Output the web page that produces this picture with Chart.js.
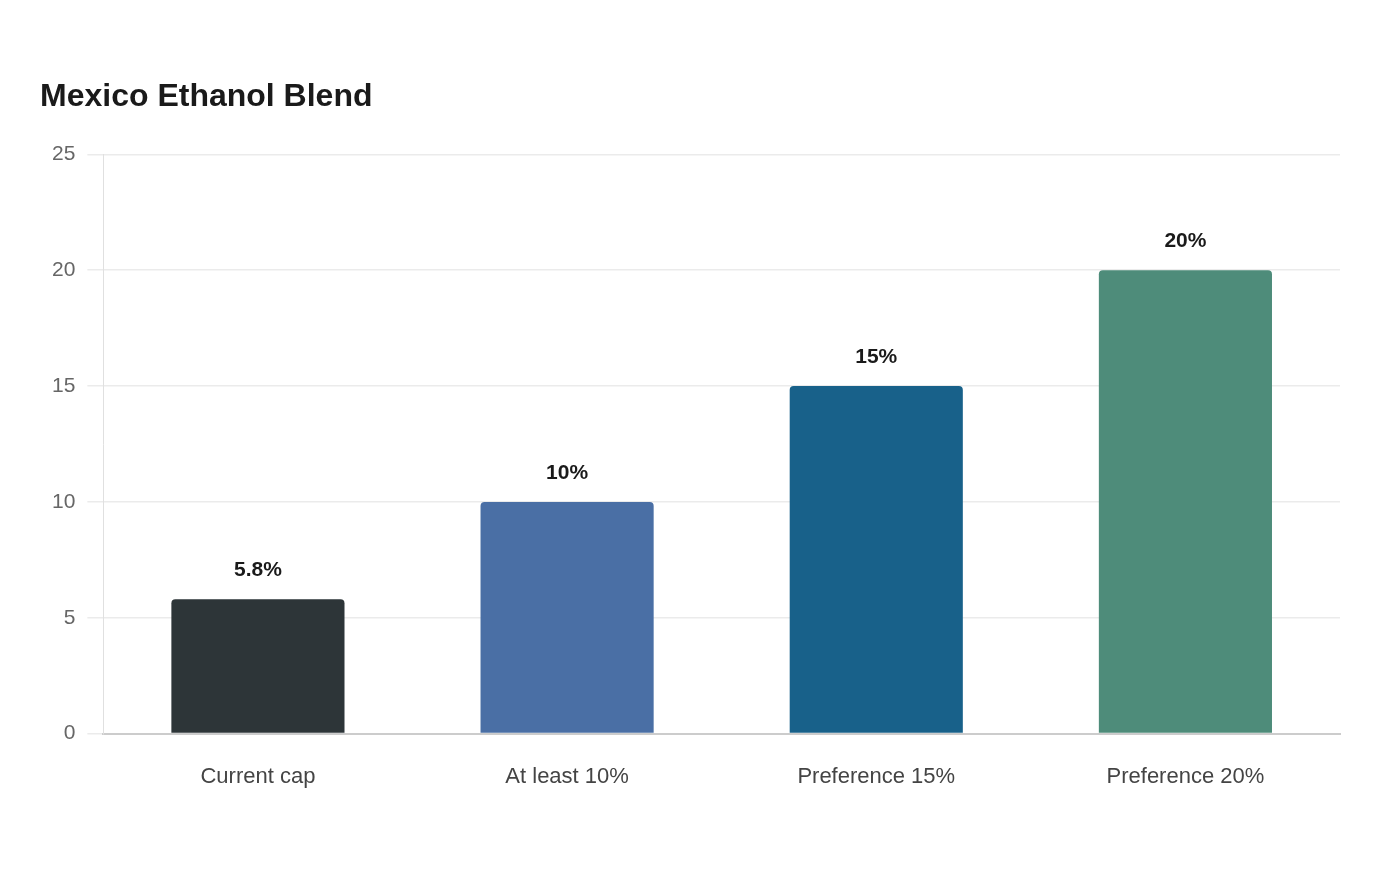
<!DOCTYPE html>
<html>
<head>
<meta charset="utf-8">
<script src="https://cdn.jsdelivr.net/npm/chart.js@4.4.1/dist/chart.umd.min.js"></script>
<style>
  html, body { margin: 0; padding: 0; background: #fff; }
  #wrap { width: 1400px; height: 880px; position: relative; }
</style>
</head>
<body>
<div id="wrap"><canvas id="chart"></canvas></div>
<script>
// Data
const categories = ['Current cap', 'At least 10%', 'Preference 15%', 'Preference 20%'];
const blendValues = [5.8, 10, 15, 20];
const blendLabels = ['5.8%', '10%', '15%', '20%'];
const barColors = ['#2d3538', '#4a6fa5', '#18618a', '#4e8c7a'];

const FONT = '"Liberation Sans", Arial, sans-serif';

// draws the value labels above the bars
const valueLabels = {
  id: 'valueLabels',
  afterDatasetsDraw(chart) {
    const { ctx } = chart;
    const meta = chart.getDatasetMeta(0);
    ctx.save();
    ctx.font = 'bold 21px ' + FONT;
    ctx.fillStyle = '#1a1a1a';
    ctx.textAlign = 'center';
    ctx.textBaseline = 'middle';
    meta.data.forEach((bar, i) => {
      ctx.fillText(blendLabels[i], bar.x, bar.y - 29);
    });
    ctx.restore();
  },
};

new Chart(document.getElementById('chart'), {
  type: 'bar',
  data: {
    labels: categories,
    datasets: [{
      data: blendValues,
      backgroundColor: barColors,
      borderRadius: { topLeft: 4, topRight: 4 },
      borderSkipped: false,
      categoryPercentage: 0.8,
      barPercentage: 0.7,
    }],
  },
  options: {
    responsive: true, maintainAspectRatio: false, animation: false,
    layout: { padding: { left: 40, right: 60, top: 78, bottom: 68 } },
    plugins: {
      legend: { display: false },
      tooltip: { enabled: false },
      title: {
        display: true, text: 'Mexico Ethanol Blend', align: 'start',
        color: '#1a1a1a', font: { family: FONT, size: 32, weight: 'bold' },
        padding: { top: 0, bottom: 38 },
      },
    },
    scales: {
      x: {
        grid: { display: false },
        border: { color: '#cccccc', width: 2 },
        ticks: { color: '#444', padding: 22, font: { family: FONT, size: 22 } },
      },
      y: {
        min: 0, max: 25,
        grid: { color: '#ebebeb', tickLength: 16, lineWidth: 1.5 },
        border: { color: '#e0e0e0' },
        ticks: { stepSize: 5, color: '#666', padding: 12, font: { family: FONT, size: 21 } },
      },
    },
  },
  plugins: [valueLabels],
});
</script>
</body>
</html>
